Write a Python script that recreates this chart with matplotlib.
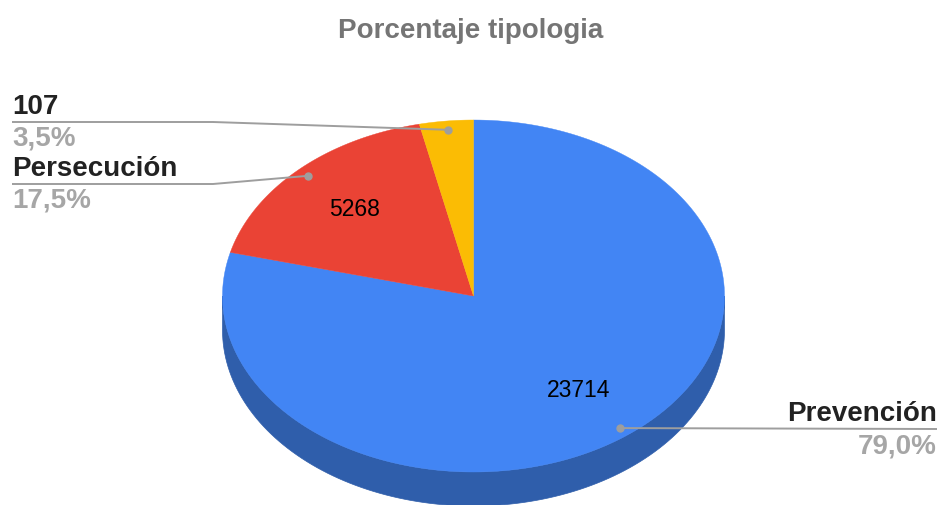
import numpy as np
import matplotlib
matplotlib.use("Agg")
import matplotlib.pyplot as plt
from matplotlib.patches import Polygon

TITLE = "Porcentaje tipologia"
CATEGORIES = ["Prevención", "Persecución", "107"]
VALUES = [23714, 5268, 1040]
SHOW_VALUE = [True, True, False]
TOP_COLORS = ["#4285f4", "#ea4335", "#fbbc04"]
SIDE_COLORS = ["#2f5eab", "#a32f25", "#b08303"]

W, H = 939, 505
CX, CY, RX, RY, DEPTH = 473.5, 296, 251, 176, 34
FONT = "Liberation Sans"


def ept(t, r=1.0, dy=0.0):
    t = np.radians(t)
    return CX + r * RX * np.cos(t), CY - r * RY * np.sin(t) + dy


fig = plt.figure(figsize=(W / 100, H / 100), dpi=100)
ax = fig.add_axes([0, 0, 1, 1])
ax.set_xlim(0, W)
ax.set_ylim(H, 0)
ax.axis("off")

total = sum(VALUES)
fracs = [v / total for v in VALUES]

# slice angle ranges, clockwise from 12 o'clock
ranges = []
a = 90.0
for f in fracs:
    ranges.append((a - 360 * f, a))
    a -= 360 * f

# side wall (front half only)
for (t0, t1), col in zip(ranges, SIDE_COLORS):
    for k in (0, -360):
        lo, hi = max(t0 - k, -180), min(t1 - k, 0)
        if hi <= lo:
            continue
        ts = np.linspace(lo, hi, 120)
        top = [ept(t) for t in ts]
        bot = [ept(t, dy=DEPTH) for t in ts[::-1]]
        ax.add_patch(Polygon(top + bot, closed=True, fc=col, ec=col, lw=0.5))

# top face
for (t0, t1), col in zip(ranges, TOP_COLORS):
    ts = np.linspace(t0, t1, 200)
    pts = [(CX, CY)] + [ept(t) for t in ts]
    ax.add_patch(Polygon(pts, closed=True, fc=col, ec=col, lw=0.3))

# values inside slices
for (t0, t1), v, show in zip(ranges, VALUES, SHOW_VALUE):
    if show:
        x, y = ept((t0 + t1) / 2, r=0.68)
        ax.text(x, y, str(v), ha="center", va="center", fontsize=16.5,
                family=FONT, color="#000000")

# outside labels with leader lines
LINE = "#9e9e9e"
label_pos = {
    "107": ("left", 12, 213, 122),
    "Persecución": ("left", 12, 213, 184),
    "Prevención": ("right", 937, None, 429),
}
for (t0, t1), name, f in zip(ranges, CATEGORIES, fracs):
    side, xe, xk, yl = label_pos[name]
    dx, dy = ept((t0 + t1) / 2, r=0.95)
    if side == "left":
        ax.plot([dx, xk, xe], [dy, yl, yl], color=LINE, lw=1.4, solid_capstyle="butt")
        ha = "left"
    else:
        ax.plot([dx, xe], [dy, yl], color=LINE, lw=1.4, solid_capstyle="butt")
        ha = "right"
    ax.plot([dx], [dy], "o", ms=5, color=LINE)
    ax.text(xe, yl - 8, name, ha=ha, va="baseline", fontsize=20,
            fontweight="bold", family=FONT, color="#222222")
    pct = f"{f * 100:.1f}%".replace(".", ",")
    ax.text(xe, yl + 24, pct, ha=ha, va="baseline", fontsize=20,
            fontweight="bold", family=FONT, color="#a6a6a6")

ax.text(W / 2 + 1, 38, TITLE, ha="center", va="baseline", fontsize=20,
        fontweight="bold", family=FONT, color="#757575")

fig.savefig("out.png", dpi=100)
